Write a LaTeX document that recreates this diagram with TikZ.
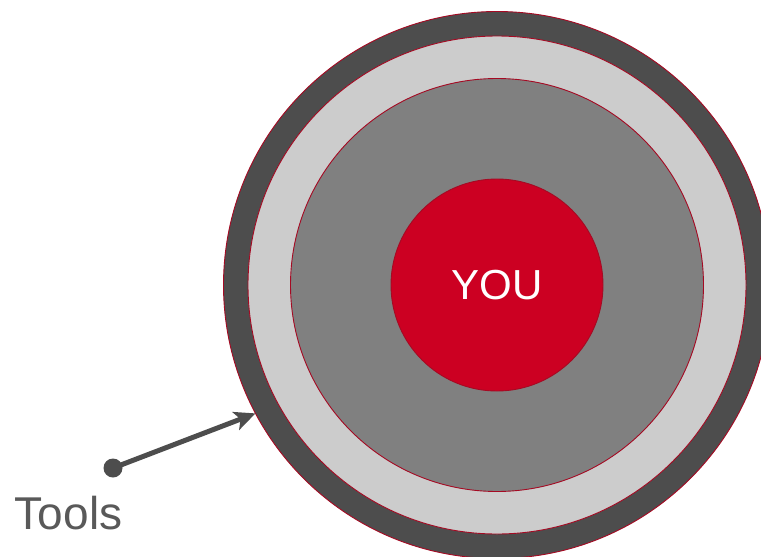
\documentclass[tikz,border=0pt]{standalone}
\usepackage{fontspec}
\setmainfont{Liberation Sans}
\usetikzlibrary{arrows.meta}
\definecolor{ringdark}{RGB}{77,77,77}
\definecolor{ringlight}{RGB}{204,204,204}
\definecolor{ringmid}{RGB}{128,128,128}
\definecolor{youred}{RGB}{204,0,34}
\definecolor{edgered}{RGB}{165,10,35}
\definecolor{labelgray}{RGB}{89,89,89}
\tikzset{
    ring/.style={draw=edgered, circle, line width=0.9pt, inner sep=0pt, outer sep=0pt},
    outerring/.style={ring, fill=ringdark, minimum size=547pt},
    lightring/.style={ring, fill=ringlight, minimum size=498pt},
    midring/.style={ring, fill=ringmid, minimum size=413pt},
    youcircle/.style={ring, fill=youred, minimum size=212pt, text=white, font=\fontsize{42}{50}\selectfont},
    pointdot/.style={circle, fill=ringdark, inner sep=0pt, minimum size=19pt},
    pointer/.style={-{Stealth[length=21pt, width=19pt, inset=5pt]}, line width=5pt, draw=ringdark},
    toolslabel/.style={font=\fontsize{46}{54}\selectfont, text=labelgray, inner sep=0pt},
}
\begin{document}
\begin{tikzpicture}[x=1pt, y=-1pt]
    \useasboundingbox (0,0) rectangle (761,557);
    \clip (0,0) rectangle (761,557);

    % === rings ===
    \node[outerring] (outer) at (497,285) {};
    \node[lightring] (light) at (497,285) {};
    \node[midring] (mid) at (497,285) {};
    \node[youcircle] (you) at (497,285) {YOU};

    % === Tools pointer ===
    \node[pointdot] (dot) at (113,468) {};
    \draw[pointer] (dot.center) -- (outer.208.8);
    \node[toolslabel, anchor=base] (tools) at (68.5,529) {Tools};
\end{tikzpicture}
\end{document}
